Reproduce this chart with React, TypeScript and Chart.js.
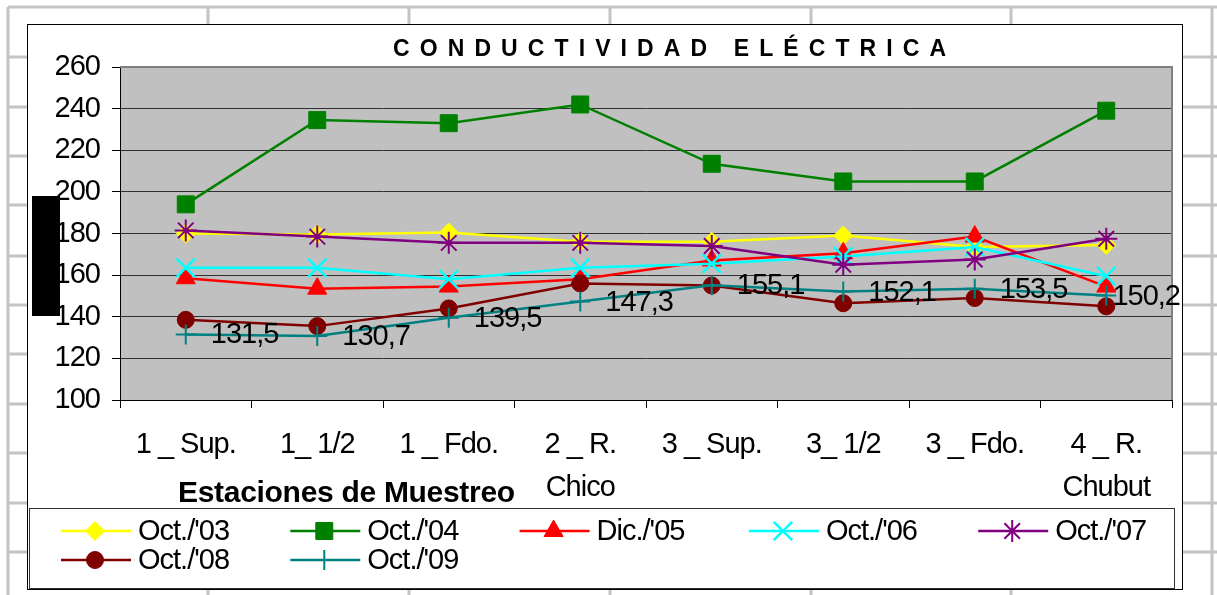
import React, { useEffect, useRef } from 'react';
import { Chart, registerables } from 'chart.js';
import { drawPoint } from 'chart.js/helpers';

Chart.register(...registerables);

const W = 1217;
const H = 595;
const FONT = "'Liberation Sans', Arial, sans-serif";
const TEXT_SPACING = '-1px';

// ---- data ----
const categories: (string | string[])[] = [
  '1 _ Sup.',
  '1_ 1/2',
  '1 _ Fdo.',
  ['2 _ R.', 'Chico'],
  '3 _ Sup.',
  '3_ 1/2',
  '3 _ Fdo.',
  ['4 _ R.', 'Chubut'],
];
const oct03 = [180, 179.5, 180.5, 176, 176, 179, 173.5, 174.5];
const oct04 = [194, 234.5, 233, 242, 213.5, 205, 205, 239];
const dic05 = [158.5, 153.5, 154.5, 158, 167, 170.5, 178.5, 154.5];
const oct06 = [163.5, 163.5, 158, 163.5, 165.5, 169, 173.5, 159.5];
const oct07 = [181.5, 178.5, 175.5, 175.5, 174, 165, 167.5, 177.5];
const oct08 = [138.5, 135.5, 144, 156, 155, 146.5, 149, 145];
const oct09 = [131.5, 130.7, 139.5, 147.3, 155.1, 152.1, 153.5, 150.2];

const seriesNames = ["Oct./'03", "Oct./'04", "Dic./'05", "Oct./'06", "Oct./'07", "Oct./'08", "Oct./'09"];
const seriesData = [oct03, oct04, dic05, oct06, oct07, oct08, oct09];
const seriesColors = ['#ffff00', '#008000', '#ff0000', '#00ffff', '#800080', '#800000', '#008080'];
const seriesStyles = ['rectRot', 'rect', 'triangle', 'crossRot', 'star', 'circle', 'cross'];
const seriesRadius = [9.5, 12, 11, 13, 11, 8.5, 10];
const seriesBorder = [1, 1, 1, 2.5, 2, 1, 2];

const yMin = 100;
const yMax = 260;
const yStep = 20;

const chartTitle = 'CONDUCTIVIDAD ELÉCTRICA';
const xTitle = 'Estaciones de Muestreo';

// spreadsheet background grid
const sheetCols = [8, 208, 409, 610, 811, 1011, 1212];
const sheetRows = [7, 57, 107, 156, 205, 256, 305, 354, 404, 453, 503, 552];

const fmt = (v: number) => v.toFixed(1).replace('.', ',');

const setSpacing = (ctx: any, v: string) => {
  if (ctx && 'letterSpacing' in ctx) ctx.letterSpacing = v;
};

const decorPlugin = {
  id: 'decor',
  beforeLayout(chart: any) {
    setSpacing(chart.ctx, TEXT_SPACING);
  },
  beforeDraw(chart: any) {
    const ctx = chart.ctx as CanvasRenderingContext2D;
    const { left, top, right, bottom } = chart.chartArea;
    ctx.save();
    ctx.fillStyle = '#ffffff';
    ctx.fillRect(0, 0, W, H);
    ctx.strokeStyle = '#c4c4c4';
    ctx.lineWidth = 3;
    for (const x of sheetCols) {
      ctx.beginPath();
      ctx.moveTo(x, 7);
      ctx.lineTo(x, H);
      ctx.stroke();
    }
    for (const y of sheetRows) {
      ctx.beginPath();
      ctx.moveTo(8, y);
      ctx.lineTo(W, y);
      ctx.stroke();
    }
    // chart object
    ctx.fillStyle = '#ffffff';
    ctx.fillRect(27, 24, 1155, 565);
    ctx.strokeStyle = '#000';
    ctx.lineWidth = 1;
    ctx.strokeRect(27.5, 24.5, 1155, 565);
    // plot area
    ctx.fillStyle = '#c0c0c0';
    ctx.fillRect(left, top, right - left, bottom - top);

    // title
    ctx.fillStyle = '#000';
    ctx.font = `bold 23px ${FONT}`;
    setSpacing(ctx, '10.1px');
    ctx.textAlign = 'left';
    ctx.textBaseline = 'alphabetic';
    ctx.fillText(chartTitle, 393, 56);
    ctx.restore();
    setSpacing(ctx, TEXT_SPACING);
  },
  beforeDatasetsDraw(chart: any) {
    const ctx = chart.ctx as CanvasRenderingContext2D;
    const { left, top, right, bottom } = chart.chartArea;
    ctx.save();
    ctx.strokeStyle = '#808080';
    ctx.lineWidth = 2;
    ctx.beginPath();
    ctx.moveTo(left, top);
    ctx.lineTo(right, top);
    ctx.lineTo(right, bottom);
    ctx.stroke();
    ctx.restore();
  },
  afterDatasetsDraw(chart: any) {
    const ctx = chart.ctx as CanvasRenderingContext2D;
    const meta = chart.getDatasetMeta(6);
    ctx.save();
    setSpacing(ctx, TEXT_SPACING);
    ctx.font = `29px ${FONT}`;
    ctx.fillStyle = '#000';
    ctx.textAlign = 'left';
    ctx.textBaseline = 'middle';
    meta.data.forEach((pt: any, i: number) => {
      const txt = fmt(oct09[i]);
      const w = ctx.measureText(txt).width;
      const x = Math.min(pt.x + 25, 1180 - w);
      ctx.fillText(txt, x, pt.y + 1);
    });
    ctx.restore();
  },
  afterDraw(chart: any) {
    const ctx = chart.ctx as CanvasRenderingContext2D;
    ctx.save();
    // x axis title
    ctx.fillStyle = '#000';
    setSpacing(ctx, '-0.3px');
    ctx.font = `bold 30px ${FONT}`;
    ctx.textAlign = 'left';
    ctx.textBaseline = 'alphabetic';
    ctx.fillText(xTitle, 178, 502);

    // hidden y-axis title block
    ctx.fillStyle = '#000';
    ctx.fillRect(32, 196, 28, 120);

    // legend
    ctx.fillStyle = '#fff';
    ctx.fillRect(29, 508, 1145, 80);
    ctx.strokeStyle = '#333';
    ctx.lineWidth = 1;
    ctx.strokeRect(29.5, 508.5, 1145, 80);
    setSpacing(ctx, TEXT_SPACING);
    ctx.font = `29px ${FONT}`;
    ctx.textBaseline = 'middle';
    seriesNames.forEach((name, i) => {
      const col = i % 5;
      const row = Math.floor(i / 5);
      const x0 = 61 + col * 229.3;
      const y0 = 531 + row * 29;
      ctx.strokeStyle = seriesColors[i];
      ctx.fillStyle = seriesColors[i];
      ctx.lineWidth = 2.5;
      ctx.beginPath();
      ctx.moveTo(x0, y0);
      ctx.lineTo(x0 + 70, y0);
      ctx.stroke();
      ctx.lineWidth = seriesBorder[i];
      drawPoint(ctx, {
        pointStyle: seriesStyles[i] as any,
        radius: seriesRadius[i],
        rotation: 0,
        borderWidth: seriesBorder[i],
      } as any, x0 + 34, y0);
      ctx.fillStyle = '#000';
      ctx.fillText(name, x0 + 77, y0 + 1);
    });
    ctx.restore();
  },
};

export default function App() {
  const ref = useRef<HTMLCanvasElement | null>(null);

  useEffect(() => {
    if (!ref.current) return;
    Chart.defaults.font.family = FONT;
    Chart.defaults.color = '#000';
    const n = seriesData.length;
    const chart = new Chart(ref.current, {
      type: 'line',
      data: {
        labels: categories as any,
        datasets: seriesData.map((d, i) => ({
          label: seriesNames[i],
          data: d,
          borderColor: seriesColors[i],
          backgroundColor: seriesColors[i],
          pointBackgroundColor: seriesColors[i],
          pointBorderColor: seriesColors[i],
          pointStyle: seriesStyles[i] as any,
          pointRadius: seriesRadius[i],
          pointBorderWidth: seriesBorder[i],
          borderWidth: 2.5,
          tension: 0,
          fill: false,
          order: n - i,
        })),
      },
      options: {
        responsive: false,
        animation: false,
        events: [],
        layout: {
          autoPadding: false,
          padding: { left: 0, top: 67, right: 45, bottom: 95 },
        },
        plugins: {
          legend: { display: false },
          title: { display: false },
          tooltip: { enabled: false },
        },
        scales: {
          x: {
            type: 'category',
            offset: true,
            afterFit: (s: any) => {
              s.height = 100;
            },
            grid: {
              offset: true,
              drawOnChartArea: false,
              drawTicks: true,
              tickLength: 8,
              tickColor: '#000',
              color: '#000',
            },
            border: { display: true, color: '#000', width: 1 },
            ticks: {
              autoSkip: false,
              maxRotation: 0,
              minRotation: 0,
              padding: 16,
              color: '#000',
              font: { size: 29, family: FONT, lineHeight: 1.48 },
            },
          },
          y: {
            min: yMin,
            max: yMax,
            afterFit: (s: any) => {
              s.width = 120;
            },
            grid: {
              color: '#303030',
              lineWidth: 1,
              drawTicks: true,
              tickLength: 8,
              tickColor: '#000',
            },
            border: { display: true, color: '#000', width: 1 },
            ticks: {
              stepSize: yStep,
              padding: 12,
              color: '#000',
              font: { size: 29, family: FONT },
            },
          },
        },
      },
      plugins: [decorPlugin],
    });
    return () => chart.destroy();
  }, []);

  return (
    <div style={{ position: 'fixed', left: 0, top: 0, width: W, height: H }}>
      <canvas ref={ref} width={W} height={H} style={{ display: 'block', width: W, height: H }} />
    </div>
  );
}
